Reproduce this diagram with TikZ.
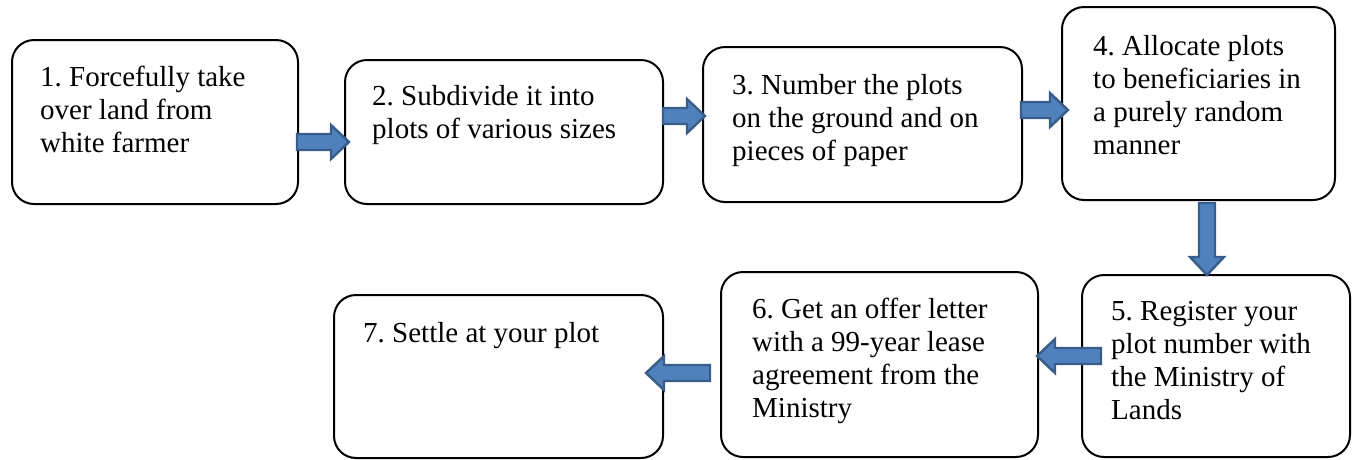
\documentclass[tikz,border=0pt]{standalone}
\usepackage{fontspec}
\setmainfont{Liberation Serif}
\usetikzlibrary{calc}
\frenchspacing
\definecolor{arrowfill}{HTML}{4F81BD}
\definecolor{arrowline}{HTML}{385D8A}
\def\blkw{8pt}
\def\blkh{17pt}
\def\blkl{18pt}
\newcommand\txtlines[1]{\begin{tabular}[t]{@{}l@{}}#1\end{tabular}}
\tikzset{
  box/.style={draw=black, line width=2pt, rounded corners=22pt, fill=white, inner sep=0pt},
  txt/.style={anchor=base west, inner sep=0pt,
    font=\fontsize{29}{33.3}\selectfont\frenchspacing},
  blk/.style={draw=arrowline, fill=arrowfill, line width=2.4pt, line join=miter,
    to path={
      ($(\tikztostart)!\blkw!90:(\tikztotarget)$) --
      ($(\tikztotarget)!\blkl!(\tikztostart)!\blkw!90:(\tikztotarget)$) --
      ($(\tikztotarget)!\blkl!(\tikztostart)!\blkh!90:(\tikztotarget)$) --
      (\tikztotarget) --
      ($(\tikztotarget)!\blkl!(\tikztostart)!\blkh!-90:(\tikztotarget)$) --
      ($(\tikztotarget)!\blkl!(\tikztostart)!\blkw!-90:(\tikztotarget)$) --
      ($(\tikztostart)!\blkw!-90:(\tikztotarget)$) -- cycle}}
}
\begin{document}
\begin{tikzpicture}[x=1pt,y=-1pt]
\useasboundingbox (0,0) rectangle (1360,459);
% boxes
\node[box, minimum width=286pt, minimum height=164pt] (b1) at (155,122) {};
\node[box, minimum width=318pt, minimum height=144pt] (b2) at (504,132) {};
\node[box, minimum width=319pt, minimum height=155pt] (b3) at (862.5,124.5) {};
\node[box, minimum width=273pt, minimum height=193pt] (b4) at (1198.5,103.5) {};
\node[box, minimum width=268pt, minimum height=182pt] (b5) at (1216,366) {};
\node[box, minimum width=317pt, minimum height=185pt] (b6) at (879.5,364.5) {};
\node[box, minimum width=329pt, minimum height=163pt] (b7) at (498.5,376.5) {};
% texts
\node[txt] (t1) at (40,86) {\txtlines{1. Forcefully take\\over land from\\white farmer}};
\node[txt] (t2) at (372,105) {\txtlines{2. Subdivide it into\\plots of various sizes}};
\node[txt] (t3) at (732,94) {\txtlines{3. Number the plots\\on the ground and on\\pieces of paper}};
\node[txt] (t4) at (1093,55) {\txtlines{4. Allocate plots\\to beneficiaries in\\a purely random\\manner}};
\node[txt] (t5) at (1111,320) {\txtlines{5. Register your\\plot number with\\the Ministry of\\Lands}};
\node[txt] (t6) at (752,318) {\txtlines{6. Get an offer letter\\with a 99-year lease\\agreement from the\\Ministry}};
\node[txt] (t7) at (363,342) {\txtlines{7. Settle at your plot}};
% arrow end points
\coordinate (a12s) at (297,142);  \coordinate (a12e) at (349,142);
\coordinate (a23s) at (663,116);  \coordinate (a23e) at (705,116);
\coordinate (a34s) at (1021,110); \coordinate (a34e) at (1068,110);
\coordinate (a45s) at (1207,203); \coordinate (a45e) at (1207,275);
\coordinate (a56s) at (1101,356); \coordinate (a56e) at (1037,356);
\coordinate (a67s) at (710,373);  \coordinate (a67e) at (646,373);
% arrows
\path[blk] (a12s) to (a12e);
\path[blk] (a23s) to (a23e);
\path[blk] (a34s) to (a34e);
\path[blk] (a45s) to (a45e);
\path[blk] (a56s) to (a56e);
\path[blk] (a67s) to (a67e);
\end{tikzpicture}
\end{document}
